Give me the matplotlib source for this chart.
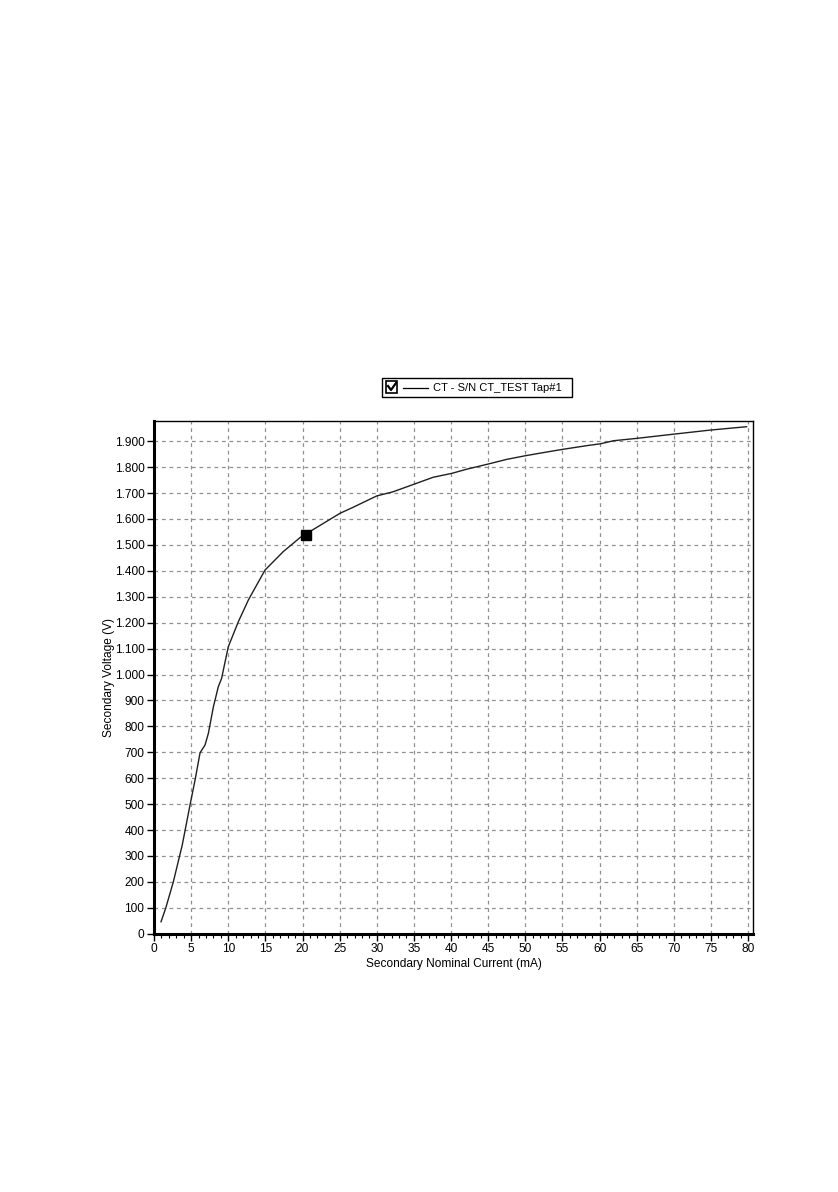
import matplotlib.pyplot as plt
from matplotlib.patches import Rectangle
from matplotlib.lines import Line2D
from matplotlib.ticker import MultipleLocator, FuncFormatter

plt.rcParams["font.family"] = ["Liberation Sans", "DejaVu Sans"]

# excitation curve, current in mA, voltage in mV (shown as V with '.' thousands)
current_ma = [0.94, 1.57, 2.6, 3.8, 4.85, 5.52, 6.2, 6.87, 7.32, 8.0, 8.66, 9.1,
              10.0, 11.36, 12.7, 13.2, 14.95, 17.4, 19.7, 22.8, 25.05, 26.8,
              30.0, 32.2, 34.9, 37.6, 40.1, 42.1, 45.0, 47.5, 50.0, 52.4, 55.1,
              58.3, 60.1, 61.9, 65.0, 69.9, 74.9, 79.8]
voltage_mv = [46, 98, 200, 342, 497, 592, 698, 728, 773, 876, 953, 985,
              1107, 1204, 1287, 1313, 1403, 1474, 1529, 1583, 1622, 1645,
              1689, 1705, 1733, 1761, 1776, 1792, 1812, 1830, 1844, 1856, 1869,
              1883, 1890, 1902, 1911, 1927, 1943, 1956]
knee_point = (20.4, 1540)
series_label = "CT - S/N CT_TEST Tap#1"

fig = plt.figure(figsize=(8.38, 11.92), dpi=100)
ax = fig.add_axes([0.1838, 0.2167, 0.7148, 0.4301])

ax.plot(current_ma, voltage_mv, color="#202020", lw=1.0, zorder=3)
ax.plot([knee_point[0]], [knee_point[1]], marker="s", ms=7.5, color="black",
        zorder=4)

ax.set_xlim(0, 80.67)
ax.set_ylim(0, 1978)
ax.xaxis.set_major_locator(MultipleLocator(5))
ax.xaxis.set_minor_locator(MultipleLocator(1))
ax.yaxis.set_major_locator(MultipleLocator(100))


def thousands(v, pos):
    return f"{int(round(v)):,}".replace(",", ".")


ax.yaxis.set_major_formatter(FuncFormatter(thousands))
ax.grid(True, which="major", ls=(0, (3, 3)), color="#909090", lw=0.9)
ax.tick_params(axis="both", which="major", length=5, width=1, labelsize=8.6,
               pad=2, direction="out")
ax.tick_params(axis="x", which="minor", length=3, width=0.8, direction="out")
ax.tick_params(axis="y", which="minor", left=False)
for side in ("top", "right"):
    ax.spines[side].set_linewidth(1.0)
for side in ("left", "bottom"):
    ax.spines[side].set_linewidth(2.2)

ax.set_xlabel("Secondary Nominal Current (mA)", fontsize=8.6, labelpad=2)
ax.set_ylabel("Secondary Voltage (V)", fontsize=8.6, labelpad=0)

# legend box with check box, drawn in figure pixels
W, H = 838, 1192


def fx(px):
    return px / W


def fy(py):
    return 1 - py / H


fig.patches.append(Rectangle((fx(382), fy(397)), fx(572) - fx(382),
                             fy(378) - fy(397), transform=fig.transFigure,
                             fill=False, ec="black", lw=1.0))
fig.patches.append(Rectangle((fx(386), fy(393)), fx(397) - fx(386),
                             fy(381) - fy(393), transform=fig.transFigure,
                             fill=False, ec="black", lw=1.2))
fig.lines.append(Line2D([fx(388), fx(391), fx(396)], [fy(386), fy(390), fy(383)],
                        transform=fig.transFigure, color="black", lw=1.6))
fig.lines.append(Line2D([fx(403), fx(428)], [fy(387.5), fy(387.5)],
                        transform=fig.transFigure, color="black", lw=0.9))
fig.text(fx(433), fy(387.5), series_label, fontsize=8, va="center", ha="left")

fig.savefig("out.png", dpi=100)
